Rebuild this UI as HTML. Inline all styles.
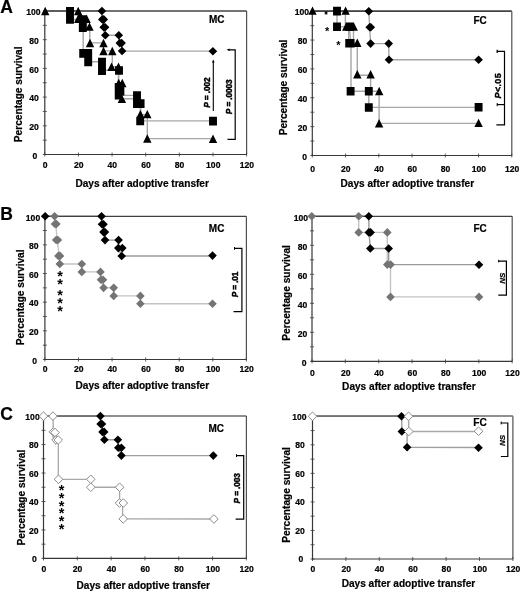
<!DOCTYPE html><html><head><meta charset="utf-8"><style>html,body{margin:0;padding:0;background:#fff;}svg{display:block;will-change:transform;filter:blur(0.5px);}</style></head><body><svg width="520" height="592" viewBox="0 0 520 592" font-family='"Liberation Sans", sans-serif'>
<rect width="520" height="592" fill="#fff"/>
<polyline points="44.80,11.00 101.90,11.00 101.90,19.40 103.00,19.40 103.00,27.30 104.40,27.30 104.40,35.20 118.80,35.20 118.80,43.10 121.60,43.10 121.60,51.10 213.00,51.10" fill="none" stroke="#a6a6a6" stroke-width="1.4"/>
<polyline points="44.80,11.00 70.00,11.00 70.00,19.50 82.80,19.50 82.80,27.90 83.20,27.90 83.20,53.20 88.20,53.20 88.20,61.70 102.00,61.70 102.00,70.30 118.60,70.30 118.60,86.90 118.70,95.40 137.00,95.40 137.00,103.80 140.60,103.80 140.60,120.90 213.00,120.90" fill="none" stroke="#a6a6a6" stroke-width="1.4"/>
<polyline points="44.80,11.00 78.20,11.00 78.20,19.20 86.60,19.20 86.60,27.00 89.80,27.00 89.80,42.90 103.50,42.90 103.50,50.90 112.30,50.90 112.30,66.80 118.50,66.80 118.50,82.75 122.30,82.75 122.30,98.80 140.40,98.80 140.40,114.60 147.30,114.60 147.30,138.60 213.00,138.60" fill="none" stroke="#a6a6a6" stroke-width="1.4"/>
<polyline points="312.30,11.20 368.80,11.20 369.70,27.30 370.60,43.60 388.70,43.60 389.00,59.80 478.60,59.80" fill="none" stroke="#a6a6a6" stroke-width="1.4"/>
<polyline points="312.30,11.20 337.00,11.20 337.00,26.80 349.00,26.80 351.00,43.50 351.00,91.30 368.80,91.30 368.80,107.40 478.60,107.40" fill="none" stroke="#a6a6a6" stroke-width="1.4"/>
<polyline points="312.30,11.20 345.40,11.20 345.40,27.00 353.50,27.00 353.50,43.20 357.30,43.20 357.30,75.30 370.60,75.30 370.60,91.30 379.10,91.30 379.10,123.40 478.60,123.40" fill="none" stroke="#a6a6a6" stroke-width="1.4"/>
<polyline points="348.60,27.00 348.60,43.00" fill="none" stroke="#a6a6a6" stroke-width="1.2"/>
<polyline points="44.90,216.20 54.60,216.20 55.80,224.20 57.10,240.10 59.30,256.00 59.80,264.00 81.80,264.00 81.80,271.90 100.50,271.90 101.50,279.80 103.60,287.85 113.70,287.85 113.70,295.90 140.40,295.90 140.40,303.80 212.50,303.80" fill="none" stroke="#c4c4c4" stroke-width="1.4"/>
<polyline points="45.15,216.20 101.50,216.20 102.70,224.20 104.10,232.10 105.00,240.10 118.60,240.10 118.30,248.10 121.70,256.00 212.50,256.00" fill="none" stroke="#9a9a9a" stroke-width="1.4"/>
<polyline points="311.80,216.30 358.70,216.30 358.70,232.40 387.30,232.40 387.30,264.60 390.50,264.60 390.50,296.90 479.00,296.90" fill="none" stroke="#c4c4c4" stroke-width="1.4"/>
<polyline points="311.80,216.30 368.80,216.30 369.00,232.40 370.30,248.50 388.70,248.50 388.70,264.60 479.00,264.60" fill="none" stroke="#9a9a9a" stroke-width="1.4"/>
<polyline points="43.50,416.10 100.40,416.10" fill="none" stroke="#8a8a8a" stroke-width="1.6"/>
<polyline points="100.40,416.10 101.20,424.00 102.50,431.90 104.40,439.80 117.90,439.80 118.30,447.70 121.40,455.60 213.30,455.60" fill="none" stroke="#a0a0a0" stroke-width="1.4"/>
<polyline points="43.50,416.10 53.20,416.10 53.20,440.00 58.30,440.00 58.30,479.30 90.80,479.30 90.80,487.25 119.60,487.25 119.60,503.10 122.60,503.10 122.60,518.90 213.90,519.00" fill="none" stroke="#a8a8a8" stroke-width="1.3"/>
<polyline points="312.50,416.30 408.50,416.30" fill="none" stroke="#8a8a8a" stroke-width="1.6"/>
<polyline points="401.80,416.30 401.80,431.50 407.10,431.50 407.10,447.30 478.50,447.50" fill="none" stroke="#a0a0a0" stroke-width="1.4"/>
<polyline points="408.50,416.30 408.80,431.50 478.50,431.50" fill="none" stroke="#a8a8a8" stroke-width="1.4"/>
<line x1="44.80" y1="11.00" x2="246.60" y2="11.00" stroke="#444" stroke-width="1.6"/>
<line x1="246.60" y1="11.00" x2="246.60" y2="154.50" stroke="#505050" stroke-width="1.2"/>
<line x1="44.80" y1="11.00" x2="44.80" y2="155.10" stroke="#383838" stroke-width="1.2"/>
<line x1="44.20" y1="154.50" x2="246.60" y2="154.50" stroke="#383838" stroke-width="1.2"/>
<line x1="42.80" y1="154.50" x2="46.80" y2="154.50" stroke="#383838" stroke-width="0.8"/>
<line x1="42.80" y1="140.15" x2="46.80" y2="140.15" stroke="#383838" stroke-width="0.8"/>
<line x1="42.80" y1="125.80" x2="46.80" y2="125.80" stroke="#383838" stroke-width="0.8"/>
<line x1="42.80" y1="111.45" x2="46.80" y2="111.45" stroke="#383838" stroke-width="0.8"/>
<line x1="42.80" y1="97.10" x2="46.80" y2="97.10" stroke="#383838" stroke-width="0.8"/>
<line x1="42.80" y1="82.75" x2="46.80" y2="82.75" stroke="#383838" stroke-width="0.8"/>
<line x1="42.80" y1="68.40" x2="46.80" y2="68.40" stroke="#383838" stroke-width="0.8"/>
<line x1="42.80" y1="54.05" x2="46.80" y2="54.05" stroke="#383838" stroke-width="0.8"/>
<line x1="42.80" y1="39.70" x2="46.80" y2="39.70" stroke="#383838" stroke-width="0.8"/>
<line x1="42.80" y1="25.35" x2="46.80" y2="25.35" stroke="#383838" stroke-width="0.8"/>
<line x1="42.80" y1="11.00" x2="46.80" y2="11.00" stroke="#383838" stroke-width="0.8"/>
<line x1="44.80" y1="152.50" x2="44.80" y2="156.50" stroke="#383838" stroke-width="0.8"/>
<line x1="78.43" y1="152.50" x2="78.43" y2="156.50" stroke="#383838" stroke-width="0.8"/>
<line x1="112.07" y1="152.50" x2="112.07" y2="156.50" stroke="#383838" stroke-width="0.8"/>
<line x1="145.70" y1="152.50" x2="145.70" y2="156.50" stroke="#383838" stroke-width="0.8"/>
<line x1="179.33" y1="152.50" x2="179.33" y2="156.50" stroke="#383838" stroke-width="0.8"/>
<line x1="212.97" y1="152.50" x2="212.97" y2="156.50" stroke="#383838" stroke-width="0.8"/>
<line x1="246.60" y1="152.50" x2="246.60" y2="156.50" stroke="#383838" stroke-width="0.8"/>
<text x="37.40" y="158.60" font-size="8.6" text-anchor="end" font-weight="bold" font-style="normal" fill="#000" stroke="#000" stroke-width="0.2">0</text>
<text x="38.90" y="129.90" font-size="8.6" text-anchor="end" font-weight="bold" font-style="normal" fill="#000" stroke="#000" stroke-width="0.2">20</text>
<text x="38.90" y="101.20" font-size="8.6" text-anchor="end" font-weight="bold" font-style="normal" fill="#000" stroke="#000" stroke-width="0.2">40</text>
<text x="38.90" y="72.50" font-size="8.6" text-anchor="end" font-weight="bold" font-style="normal" fill="#000" stroke="#000" stroke-width="0.2">60</text>
<text x="38.90" y="43.80" font-size="8.6" text-anchor="end" font-weight="bold" font-style="normal" fill="#000" stroke="#000" stroke-width="0.2">80</text>
<text x="40.60" y="15.10" font-size="8.6" text-anchor="end" font-weight="bold" font-style="normal" fill="#000" stroke="#000" stroke-width="0.2">100</text>
<text x="45.10" y="167.60" font-size="8.6" text-anchor="middle" font-weight="bold" font-style="normal" fill="#000" stroke="#000" stroke-width="0.2">0</text>
<text x="78.73" y="167.60" font-size="8.6" text-anchor="middle" font-weight="bold" font-style="normal" fill="#000" stroke="#000" stroke-width="0.2">20</text>
<text x="112.37" y="167.60" font-size="8.6" text-anchor="middle" font-weight="bold" font-style="normal" fill="#000" stroke="#000" stroke-width="0.2">40</text>
<text x="146.00" y="167.60" font-size="8.6" text-anchor="middle" font-weight="bold" font-style="normal" fill="#000" stroke="#000" stroke-width="0.2">60</text>
<text x="179.63" y="167.60" font-size="8.6" text-anchor="middle" font-weight="bold" font-style="normal" fill="#000" stroke="#000" stroke-width="0.2">80</text>
<text x="213.27" y="167.60" font-size="8.6" text-anchor="middle" font-weight="bold" font-style="normal" fill="#000" stroke="#000" stroke-width="0.2">100</text>
<text x="246.90" y="167.60" font-size="8.6" text-anchor="middle" font-weight="bold" font-style="normal" fill="#000" stroke="#000" stroke-width="0.2">120</text>
<text x="75.40" y="186.70" font-size="10.1" text-anchor="start" font-weight="bold" font-style="normal" fill="#000" stroke="#000" stroke-width="0.2">Days after adoptive transfer</text>
<text x="22.40" y="94.30" font-size="10.15" text-anchor="middle" font-weight="bold" font-style="normal" fill="#000" stroke="#000" stroke-width="0.2" transform="rotate(-90 22.40 94.30)">Percentage survival</text>
<text x="209.00" y="23.40" font-size="10" text-anchor="start" font-weight="bold" font-style="normal" fill="#000" stroke="#000" stroke-width="0.2">MC</text>
<line x1="312.30" y1="11.10" x2="511.80" y2="11.10" stroke="#444" stroke-width="1.6"/>
<line x1="511.80" y1="11.20" x2="511.80" y2="155.50" stroke="#505050" stroke-width="1.2"/>
<line x1="312.30" y1="11.20" x2="312.30" y2="156.10" stroke="#383838" stroke-width="1.2"/>
<line x1="311.70" y1="155.50" x2="511.80" y2="155.50" stroke="#383838" stroke-width="1.2"/>
<line x1="310.30" y1="155.50" x2="314.30" y2="155.50" stroke="#383838" stroke-width="0.8"/>
<line x1="310.30" y1="141.07" x2="314.30" y2="141.07" stroke="#383838" stroke-width="0.8"/>
<line x1="310.30" y1="126.64" x2="314.30" y2="126.64" stroke="#383838" stroke-width="0.8"/>
<line x1="310.30" y1="112.21" x2="314.30" y2="112.21" stroke="#383838" stroke-width="0.8"/>
<line x1="310.30" y1="97.78" x2="314.30" y2="97.78" stroke="#383838" stroke-width="0.8"/>
<line x1="310.30" y1="83.35" x2="314.30" y2="83.35" stroke="#383838" stroke-width="0.8"/>
<line x1="310.30" y1="68.92" x2="314.30" y2="68.92" stroke="#383838" stroke-width="0.8"/>
<line x1="310.30" y1="54.49" x2="314.30" y2="54.49" stroke="#383838" stroke-width="0.8"/>
<line x1="310.30" y1="40.06" x2="314.30" y2="40.06" stroke="#383838" stroke-width="0.8"/>
<line x1="310.30" y1="25.63" x2="314.30" y2="25.63" stroke="#383838" stroke-width="0.8"/>
<line x1="310.30" y1="11.20" x2="314.30" y2="11.20" stroke="#383838" stroke-width="0.8"/>
<line x1="312.30" y1="153.50" x2="312.30" y2="157.50" stroke="#383838" stroke-width="0.8"/>
<line x1="345.55" y1="153.50" x2="345.55" y2="157.50" stroke="#383838" stroke-width="0.8"/>
<line x1="378.80" y1="153.50" x2="378.80" y2="157.50" stroke="#383838" stroke-width="0.8"/>
<line x1="412.05" y1="153.50" x2="412.05" y2="157.50" stroke="#383838" stroke-width="0.8"/>
<line x1="445.30" y1="153.50" x2="445.30" y2="157.50" stroke="#383838" stroke-width="0.8"/>
<line x1="478.55" y1="153.50" x2="478.55" y2="157.50" stroke="#383838" stroke-width="0.8"/>
<line x1="511.80" y1="153.50" x2="511.80" y2="157.50" stroke="#383838" stroke-width="0.8"/>
<text x="307.00" y="159.60" font-size="8.6" text-anchor="end" font-weight="bold" font-style="normal" fill="#000" stroke="#000" stroke-width="0.2">0</text>
<text x="307.40" y="130.74" font-size="8.6" text-anchor="end" font-weight="bold" font-style="normal" fill="#000" stroke="#000" stroke-width="0.2">20</text>
<text x="307.40" y="101.88" font-size="8.6" text-anchor="end" font-weight="bold" font-style="normal" fill="#000" stroke="#000" stroke-width="0.2">40</text>
<text x="307.40" y="73.02" font-size="8.6" text-anchor="end" font-weight="bold" font-style="normal" fill="#000" stroke="#000" stroke-width="0.2">60</text>
<text x="307.40" y="44.16" font-size="8.6" text-anchor="end" font-weight="bold" font-style="normal" fill="#000" stroke="#000" stroke-width="0.2">80</text>
<text x="309.00" y="15.30" font-size="8.6" text-anchor="end" font-weight="bold" font-style="normal" fill="#000" stroke="#000" stroke-width="0.2">100</text>
<text x="312.60" y="171.60" font-size="8.6" text-anchor="middle" font-weight="bold" font-style="normal" fill="#000" stroke="#000" stroke-width="0.2">0</text>
<text x="345.85" y="171.60" font-size="8.6" text-anchor="middle" font-weight="bold" font-style="normal" fill="#000" stroke="#000" stroke-width="0.2">20</text>
<text x="379.10" y="171.60" font-size="8.6" text-anchor="middle" font-weight="bold" font-style="normal" fill="#000" stroke="#000" stroke-width="0.2">40</text>
<text x="412.35" y="171.60" font-size="8.6" text-anchor="middle" font-weight="bold" font-style="normal" fill="#000" stroke="#000" stroke-width="0.2">60</text>
<text x="445.60" y="171.60" font-size="8.6" text-anchor="middle" font-weight="bold" font-style="normal" fill="#000" stroke="#000" stroke-width="0.2">80</text>
<text x="478.85" y="171.60" font-size="8.6" text-anchor="middle" font-weight="bold" font-style="normal" fill="#000" stroke="#000" stroke-width="0.2">100</text>
<text x="512.10" y="171.60" font-size="8.6" text-anchor="middle" font-weight="bold" font-style="normal" fill="#000" stroke="#000" stroke-width="0.2">120</text>
<text x="340.55" y="186.70" font-size="10.1" text-anchor="start" font-weight="bold" font-style="normal" fill="#000" stroke="#000" stroke-width="0.2">Days after adoptive transfer</text>
<text x="287.40" y="87.50" font-size="10.15" text-anchor="middle" font-weight="bold" font-style="normal" fill="#000" stroke="#000" stroke-width="0.2" transform="rotate(-90 287.40 87.50)">Percentage survival</text>
<text x="473.40" y="23.50" font-size="10" text-anchor="start" font-weight="bold" font-style="normal" fill="#000" stroke="#000" stroke-width="0.2">FC</text>
<line x1="44.90" y1="216.40" x2="246.40" y2="216.40" stroke="#404040" stroke-width="1.1"/>
<line x1="246.40" y1="216.20" x2="246.40" y2="359.50" stroke="#505050" stroke-width="1.2"/>
<line x1="44.90" y1="216.20" x2="44.90" y2="360.10" stroke="#383838" stroke-width="1.2"/>
<line x1="44.30" y1="359.50" x2="246.40" y2="359.50" stroke="#383838" stroke-width="1.2"/>
<line x1="42.90" y1="359.50" x2="46.90" y2="359.50" stroke="#383838" stroke-width="0.8"/>
<line x1="42.90" y1="345.17" x2="46.90" y2="345.17" stroke="#383838" stroke-width="0.8"/>
<line x1="42.90" y1="330.84" x2="46.90" y2="330.84" stroke="#383838" stroke-width="0.8"/>
<line x1="42.90" y1="316.51" x2="46.90" y2="316.51" stroke="#383838" stroke-width="0.8"/>
<line x1="42.90" y1="302.18" x2="46.90" y2="302.18" stroke="#383838" stroke-width="0.8"/>
<line x1="42.90" y1="287.85" x2="46.90" y2="287.85" stroke="#383838" stroke-width="0.8"/>
<line x1="42.90" y1="273.52" x2="46.90" y2="273.52" stroke="#383838" stroke-width="0.8"/>
<line x1="42.90" y1="259.19" x2="46.90" y2="259.19" stroke="#383838" stroke-width="0.8"/>
<line x1="42.90" y1="244.86" x2="46.90" y2="244.86" stroke="#383838" stroke-width="0.8"/>
<line x1="42.90" y1="230.53" x2="46.90" y2="230.53" stroke="#383838" stroke-width="0.8"/>
<line x1="42.90" y1="216.20" x2="46.90" y2="216.20" stroke="#383838" stroke-width="0.8"/>
<line x1="44.90" y1="357.50" x2="44.90" y2="361.50" stroke="#383838" stroke-width="0.8"/>
<line x1="78.48" y1="357.50" x2="78.48" y2="361.50" stroke="#383838" stroke-width="0.8"/>
<line x1="112.07" y1="357.50" x2="112.07" y2="361.50" stroke="#383838" stroke-width="0.8"/>
<line x1="145.65" y1="357.50" x2="145.65" y2="361.50" stroke="#383838" stroke-width="0.8"/>
<line x1="179.23" y1="357.50" x2="179.23" y2="361.50" stroke="#383838" stroke-width="0.8"/>
<line x1="212.82" y1="357.50" x2="212.82" y2="361.50" stroke="#383838" stroke-width="0.8"/>
<line x1="246.40" y1="357.50" x2="246.40" y2="361.50" stroke="#383838" stroke-width="0.8"/>
<text x="37.10" y="363.80" font-size="8.6" text-anchor="end" font-weight="bold" font-style="normal" fill="#000" stroke="#000" stroke-width="0.2">0</text>
<text x="38.60" y="335.14" font-size="8.6" text-anchor="end" font-weight="bold" font-style="normal" fill="#000" stroke="#000" stroke-width="0.2">20</text>
<text x="38.60" y="306.48" font-size="8.6" text-anchor="end" font-weight="bold" font-style="normal" fill="#000" stroke="#000" stroke-width="0.2">40</text>
<text x="38.60" y="277.82" font-size="8.6" text-anchor="end" font-weight="bold" font-style="normal" fill="#000" stroke="#000" stroke-width="0.2">60</text>
<text x="38.60" y="249.16" font-size="8.6" text-anchor="end" font-weight="bold" font-style="normal" fill="#000" stroke="#000" stroke-width="0.2">80</text>
<text x="40.20" y="220.50" font-size="8.6" text-anchor="end" font-weight="bold" font-style="normal" fill="#000" stroke="#000" stroke-width="0.2">100</text>
<text x="45.20" y="372.30" font-size="8.6" text-anchor="middle" font-weight="bold" font-style="normal" fill="#000" stroke="#000" stroke-width="0.2">0</text>
<text x="78.78" y="372.30" font-size="8.6" text-anchor="middle" font-weight="bold" font-style="normal" fill="#000" stroke="#000" stroke-width="0.2">20</text>
<text x="112.37" y="372.30" font-size="8.6" text-anchor="middle" font-weight="bold" font-style="normal" fill="#000" stroke="#000" stroke-width="0.2">40</text>
<text x="145.95" y="372.30" font-size="8.6" text-anchor="middle" font-weight="bold" font-style="normal" fill="#000" stroke="#000" stroke-width="0.2">60</text>
<text x="179.53" y="372.30" font-size="8.6" text-anchor="middle" font-weight="bold" font-style="normal" fill="#000" stroke="#000" stroke-width="0.2">80</text>
<text x="213.12" y="372.30" font-size="8.6" text-anchor="middle" font-weight="bold" font-style="normal" fill="#000" stroke="#000" stroke-width="0.2">100</text>
<text x="246.70" y="372.30" font-size="8.6" text-anchor="middle" font-weight="bold" font-style="normal" fill="#000" stroke="#000" stroke-width="0.2">120</text>
<text x="75.55" y="389.10" font-size="10.1" text-anchor="start" font-weight="bold" font-style="normal" fill="#000" stroke="#000" stroke-width="0.2">Days after adoptive transfer</text>
<text x="23.90" y="297.30" font-size="10.15" text-anchor="middle" font-weight="bold" font-style="normal" fill="#000" stroke="#000" stroke-width="0.2" transform="rotate(-90 23.90 297.30)">Percentage survival</text>
<text x="208.80" y="231.90" font-size="10" text-anchor="start" font-weight="bold" font-style="normal" fill="#000" stroke="#000" stroke-width="0.2">MC</text>
<line x1="312.00" y1="216.40" x2="512.20" y2="216.40" stroke="#404040" stroke-width="1.1"/>
<line x1="512.20" y1="216.30" x2="512.20" y2="361.30" stroke="#505050" stroke-width="1.2"/>
<line x1="312.00" y1="216.30" x2="312.00" y2="361.90" stroke="#383838" stroke-width="1.2"/>
<line x1="311.40" y1="361.30" x2="512.20" y2="361.30" stroke="#383838" stroke-width="1.2"/>
<line x1="310.00" y1="361.30" x2="314.00" y2="361.30" stroke="#383838" stroke-width="0.8"/>
<line x1="310.00" y1="346.80" x2="314.00" y2="346.80" stroke="#383838" stroke-width="0.8"/>
<line x1="310.00" y1="332.30" x2="314.00" y2="332.30" stroke="#383838" stroke-width="0.8"/>
<line x1="310.00" y1="317.80" x2="314.00" y2="317.80" stroke="#383838" stroke-width="0.8"/>
<line x1="310.00" y1="303.30" x2="314.00" y2="303.30" stroke="#383838" stroke-width="0.8"/>
<line x1="310.00" y1="288.80" x2="314.00" y2="288.80" stroke="#383838" stroke-width="0.8"/>
<line x1="310.00" y1="274.30" x2="314.00" y2="274.30" stroke="#383838" stroke-width="0.8"/>
<line x1="310.00" y1="259.80" x2="314.00" y2="259.80" stroke="#383838" stroke-width="0.8"/>
<line x1="310.00" y1="245.30" x2="314.00" y2="245.30" stroke="#383838" stroke-width="0.8"/>
<line x1="310.00" y1="230.80" x2="314.00" y2="230.80" stroke="#383838" stroke-width="0.8"/>
<line x1="310.00" y1="216.30" x2="314.00" y2="216.30" stroke="#383838" stroke-width="0.8"/>
<line x1="312.00" y1="359.30" x2="312.00" y2="363.30" stroke="#383838" stroke-width="0.8"/>
<line x1="345.37" y1="359.30" x2="345.37" y2="363.30" stroke="#383838" stroke-width="0.8"/>
<line x1="378.73" y1="359.30" x2="378.73" y2="363.30" stroke="#383838" stroke-width="0.8"/>
<line x1="412.10" y1="359.30" x2="412.10" y2="363.30" stroke="#383838" stroke-width="0.8"/>
<line x1="445.47" y1="359.30" x2="445.47" y2="363.30" stroke="#383838" stroke-width="0.8"/>
<line x1="478.83" y1="359.30" x2="478.83" y2="363.30" stroke="#383838" stroke-width="0.8"/>
<line x1="512.20" y1="359.30" x2="512.20" y2="363.30" stroke="#383838" stroke-width="0.8"/>
<text x="306.50" y="365.90" font-size="8.6" text-anchor="end" font-weight="bold" font-style="normal" fill="#000" stroke="#000" stroke-width="0.2">0</text>
<text x="307.20" y="336.90" font-size="8.6" text-anchor="end" font-weight="bold" font-style="normal" fill="#000" stroke="#000" stroke-width="0.2">20</text>
<text x="307.20" y="307.90" font-size="8.6" text-anchor="end" font-weight="bold" font-style="normal" fill="#000" stroke="#000" stroke-width="0.2">40</text>
<text x="307.20" y="278.90" font-size="8.6" text-anchor="end" font-weight="bold" font-style="normal" fill="#000" stroke="#000" stroke-width="0.2">60</text>
<text x="307.20" y="249.90" font-size="8.6" text-anchor="end" font-weight="bold" font-style="normal" fill="#000" stroke="#000" stroke-width="0.2">80</text>
<text x="308.00" y="220.90" font-size="8.6" text-anchor="end" font-weight="bold" font-style="normal" fill="#000" stroke="#000" stroke-width="0.2">100</text>
<text x="312.30" y="375.50" font-size="8.6" text-anchor="middle" font-weight="bold" font-style="normal" fill="#000" stroke="#000" stroke-width="0.2">0</text>
<text x="345.67" y="375.50" font-size="8.6" text-anchor="middle" font-weight="bold" font-style="normal" fill="#000" stroke="#000" stroke-width="0.2">20</text>
<text x="379.03" y="375.50" font-size="8.6" text-anchor="middle" font-weight="bold" font-style="normal" fill="#000" stroke="#000" stroke-width="0.2">40</text>
<text x="412.40" y="375.50" font-size="8.6" text-anchor="middle" font-weight="bold" font-style="normal" fill="#000" stroke="#000" stroke-width="0.2">60</text>
<text x="445.77" y="375.50" font-size="8.6" text-anchor="middle" font-weight="bold" font-style="normal" fill="#000" stroke="#000" stroke-width="0.2">80</text>
<text x="479.13" y="375.50" font-size="8.6" text-anchor="middle" font-weight="bold" font-style="normal" fill="#000" stroke="#000" stroke-width="0.2">100</text>
<text x="512.50" y="375.50" font-size="8.6" text-anchor="middle" font-weight="bold" font-style="normal" fill="#000" stroke="#000" stroke-width="0.2">120</text>
<text x="342.10" y="390.40" font-size="10.1" text-anchor="start" font-weight="bold" font-style="normal" fill="#000" stroke="#000" stroke-width="0.2">Days after adoptive transfer</text>
<text x="290.20" y="292.90" font-size="10.15" text-anchor="middle" font-weight="bold" font-style="normal" fill="#000" stroke="#000" stroke-width="0.2" transform="rotate(-90 290.20 292.90)">Percentage survival</text>
<text x="473.50" y="232.30" font-size="10" text-anchor="start" font-weight="bold" font-style="normal" fill="#000" stroke="#000" stroke-width="0.2">FC</text>
<line x1="43.50" y1="416.00" x2="246.40" y2="416.00" stroke="#6a6a6a" stroke-width="1.6"/>
<line x1="246.40" y1="416.10" x2="246.40" y2="558.40" stroke="#505050" stroke-width="1.2"/>
<line x1="43.50" y1="416.10" x2="43.50" y2="559.00" stroke="#383838" stroke-width="1.2"/>
<line x1="42.90" y1="558.40" x2="246.40" y2="558.40" stroke="#383838" stroke-width="1.2"/>
<line x1="41.50" y1="558.40" x2="45.50" y2="558.40" stroke="#383838" stroke-width="0.8"/>
<line x1="41.50" y1="544.17" x2="45.50" y2="544.17" stroke="#383838" stroke-width="0.8"/>
<line x1="41.50" y1="529.94" x2="45.50" y2="529.94" stroke="#383838" stroke-width="0.8"/>
<line x1="41.50" y1="515.71" x2="45.50" y2="515.71" stroke="#383838" stroke-width="0.8"/>
<line x1="41.50" y1="501.48" x2="45.50" y2="501.48" stroke="#383838" stroke-width="0.8"/>
<line x1="41.50" y1="487.25" x2="45.50" y2="487.25" stroke="#383838" stroke-width="0.8"/>
<line x1="41.50" y1="473.02" x2="45.50" y2="473.02" stroke="#383838" stroke-width="0.8"/>
<line x1="41.50" y1="458.79" x2="45.50" y2="458.79" stroke="#383838" stroke-width="0.8"/>
<line x1="41.50" y1="444.56" x2="45.50" y2="444.56" stroke="#383838" stroke-width="0.8"/>
<line x1="41.50" y1="430.33" x2="45.50" y2="430.33" stroke="#383838" stroke-width="0.8"/>
<line x1="41.50" y1="416.10" x2="45.50" y2="416.10" stroke="#383838" stroke-width="0.8"/>
<line x1="43.50" y1="556.40" x2="43.50" y2="560.40" stroke="#383838" stroke-width="0.8"/>
<line x1="77.32" y1="556.40" x2="77.32" y2="560.40" stroke="#383838" stroke-width="0.8"/>
<line x1="111.13" y1="556.40" x2="111.13" y2="560.40" stroke="#383838" stroke-width="0.8"/>
<line x1="144.95" y1="556.40" x2="144.95" y2="560.40" stroke="#383838" stroke-width="0.8"/>
<line x1="178.77" y1="556.40" x2="178.77" y2="560.40" stroke="#383838" stroke-width="0.8"/>
<line x1="212.58" y1="556.40" x2="212.58" y2="560.40" stroke="#383838" stroke-width="0.8"/>
<line x1="246.40" y1="556.40" x2="246.40" y2="560.40" stroke="#383838" stroke-width="0.8"/>
<text x="36.70" y="562.20" font-size="8.6" text-anchor="end" font-weight="bold" font-style="normal" fill="#000" stroke="#000" stroke-width="0.2">0</text>
<text x="38.60" y="533.74" font-size="8.6" text-anchor="end" font-weight="bold" font-style="normal" fill="#000" stroke="#000" stroke-width="0.2">20</text>
<text x="38.60" y="505.28" font-size="8.6" text-anchor="end" font-weight="bold" font-style="normal" fill="#000" stroke="#000" stroke-width="0.2">40</text>
<text x="38.60" y="476.82" font-size="8.6" text-anchor="end" font-weight="bold" font-style="normal" fill="#000" stroke="#000" stroke-width="0.2">60</text>
<text x="38.60" y="448.36" font-size="8.6" text-anchor="end" font-weight="bold" font-style="normal" fill="#000" stroke="#000" stroke-width="0.2">80</text>
<text x="39.70" y="419.90" font-size="8.6" text-anchor="end" font-weight="bold" font-style="normal" fill="#000" stroke="#000" stroke-width="0.2">100</text>
<text x="43.80" y="571.80" font-size="8.6" text-anchor="middle" font-weight="bold" font-style="normal" fill="#000" stroke="#000" stroke-width="0.2">0</text>
<text x="77.62" y="571.80" font-size="8.6" text-anchor="middle" font-weight="bold" font-style="normal" fill="#000" stroke="#000" stroke-width="0.2">20</text>
<text x="111.43" y="571.80" font-size="8.6" text-anchor="middle" font-weight="bold" font-style="normal" fill="#000" stroke="#000" stroke-width="0.2">40</text>
<text x="145.25" y="571.80" font-size="8.6" text-anchor="middle" font-weight="bold" font-style="normal" fill="#000" stroke="#000" stroke-width="0.2">60</text>
<text x="179.07" y="571.80" font-size="8.6" text-anchor="middle" font-weight="bold" font-style="normal" fill="#000" stroke="#000" stroke-width="0.2">80</text>
<text x="212.88" y="571.80" font-size="8.6" text-anchor="middle" font-weight="bold" font-style="normal" fill="#000" stroke="#000" stroke-width="0.2">100</text>
<text x="246.70" y="571.80" font-size="8.6" text-anchor="middle" font-weight="bold" font-style="normal" fill="#000" stroke="#000" stroke-width="0.2">120</text>
<text x="76.50" y="589.20" font-size="10.1" text-anchor="start" font-weight="bold" font-style="normal" fill="#000" stroke="#000" stroke-width="0.2">Days after adoptive transfer</text>
<text x="24.60" y="497.60" font-size="10.15" text-anchor="middle" font-weight="bold" font-style="normal" fill="#000" stroke="#000" stroke-width="0.2" transform="rotate(-90 24.60 497.60)">Percentage survival</text>
<text x="208.50" y="432.00" font-size="10" text-anchor="start" font-weight="bold" font-style="normal" fill="#000" stroke="#000" stroke-width="0.2">MC</text>
<line x1="312.50" y1="416.00" x2="512.90" y2="416.00" stroke="#6a6a6a" stroke-width="1.6"/>
<line x1="512.90" y1="416.30" x2="512.90" y2="559.00" stroke="#505050" stroke-width="1.2"/>
<line x1="312.50" y1="416.30" x2="312.50" y2="559.60" stroke="#383838" stroke-width="1.2"/>
<line x1="311.90" y1="559.00" x2="512.90" y2="559.00" stroke="#383838" stroke-width="1.2"/>
<line x1="310.50" y1="559.00" x2="314.50" y2="559.00" stroke="#383838" stroke-width="0.8"/>
<line x1="310.50" y1="544.73" x2="314.50" y2="544.73" stroke="#383838" stroke-width="0.8"/>
<line x1="310.50" y1="530.46" x2="314.50" y2="530.46" stroke="#383838" stroke-width="0.8"/>
<line x1="310.50" y1="516.19" x2="314.50" y2="516.19" stroke="#383838" stroke-width="0.8"/>
<line x1="310.50" y1="501.92" x2="314.50" y2="501.92" stroke="#383838" stroke-width="0.8"/>
<line x1="310.50" y1="487.65" x2="314.50" y2="487.65" stroke="#383838" stroke-width="0.8"/>
<line x1="310.50" y1="473.38" x2="314.50" y2="473.38" stroke="#383838" stroke-width="0.8"/>
<line x1="310.50" y1="459.11" x2="314.50" y2="459.11" stroke="#383838" stroke-width="0.8"/>
<line x1="310.50" y1="444.84" x2="314.50" y2="444.84" stroke="#383838" stroke-width="0.8"/>
<line x1="310.50" y1="430.57" x2="314.50" y2="430.57" stroke="#383838" stroke-width="0.8"/>
<line x1="310.50" y1="416.30" x2="314.50" y2="416.30" stroke="#383838" stroke-width="0.8"/>
<line x1="312.50" y1="557.00" x2="312.50" y2="561.00" stroke="#383838" stroke-width="0.8"/>
<line x1="345.90" y1="557.00" x2="345.90" y2="561.00" stroke="#383838" stroke-width="0.8"/>
<line x1="379.30" y1="557.00" x2="379.30" y2="561.00" stroke="#383838" stroke-width="0.8"/>
<line x1="412.70" y1="557.00" x2="412.70" y2="561.00" stroke="#383838" stroke-width="0.8"/>
<line x1="446.10" y1="557.00" x2="446.10" y2="561.00" stroke="#383838" stroke-width="0.8"/>
<line x1="479.50" y1="557.00" x2="479.50" y2="561.00" stroke="#383838" stroke-width="0.8"/>
<line x1="512.90" y1="557.00" x2="512.90" y2="561.00" stroke="#383838" stroke-width="0.8"/>
<text x="303.40" y="562.30" font-size="8.6" text-anchor="end" font-weight="bold" font-style="normal" fill="#000" stroke="#000" stroke-width="0.2">0</text>
<text x="304.90" y="533.76" font-size="8.6" text-anchor="end" font-weight="bold" font-style="normal" fill="#000" stroke="#000" stroke-width="0.2">20</text>
<text x="304.90" y="505.22" font-size="8.6" text-anchor="end" font-weight="bold" font-style="normal" fill="#000" stroke="#000" stroke-width="0.2">40</text>
<text x="304.90" y="476.68" font-size="8.6" text-anchor="end" font-weight="bold" font-style="normal" fill="#000" stroke="#000" stroke-width="0.2">60</text>
<text x="304.90" y="448.14" font-size="8.6" text-anchor="end" font-weight="bold" font-style="normal" fill="#000" stroke="#000" stroke-width="0.2">80</text>
<text x="306.60" y="419.60" font-size="8.6" text-anchor="end" font-weight="bold" font-style="normal" fill="#000" stroke="#000" stroke-width="0.2">100</text>
<text x="312.80" y="572.30" font-size="8.6" text-anchor="middle" font-weight="bold" font-style="normal" fill="#000" stroke="#000" stroke-width="0.2">0</text>
<text x="346.20" y="572.30" font-size="8.6" text-anchor="middle" font-weight="bold" font-style="normal" fill="#000" stroke="#000" stroke-width="0.2">20</text>
<text x="379.60" y="572.30" font-size="8.6" text-anchor="middle" font-weight="bold" font-style="normal" fill="#000" stroke="#000" stroke-width="0.2">40</text>
<text x="413.00" y="572.30" font-size="8.6" text-anchor="middle" font-weight="bold" font-style="normal" fill="#000" stroke="#000" stroke-width="0.2">60</text>
<text x="446.40" y="572.30" font-size="8.6" text-anchor="middle" font-weight="bold" font-style="normal" fill="#000" stroke="#000" stroke-width="0.2">80</text>
<text x="479.80" y="572.30" font-size="8.6" text-anchor="middle" font-weight="bold" font-style="normal" fill="#000" stroke="#000" stroke-width="0.2">100</text>
<text x="513.20" y="572.30" font-size="8.6" text-anchor="middle" font-weight="bold" font-style="normal" fill="#000" stroke="#000" stroke-width="0.2">120</text>
<text x="341.70" y="586.70" font-size="10.1" text-anchor="start" font-weight="bold" font-style="normal" fill="#000" stroke="#000" stroke-width="0.2">Days after adoptive transfer</text>
<text x="289.60" y="494.90" font-size="10.15" text-anchor="middle" font-weight="bold" font-style="normal" fill="#000" stroke="#000" stroke-width="0.2" transform="rotate(-90 289.60 494.90)">Percentage survival</text>
<text x="473.20" y="425.80" font-size="10.2" text-anchor="start" font-weight="bold" font-style="normal" fill="#000" stroke="#000" stroke-width="0.2">FC</text>
<text x="0.20" y="12.60" font-size="17.5" text-anchor="start" font-weight="bold" font-style="normal" fill="#000" stroke="#000" stroke-width="0.2">A</text>
<text x="0.30" y="219.80" font-size="17.5" text-anchor="start" font-weight="bold" font-style="normal" fill="#000" stroke="#000" stroke-width="0.2">B</text>
<text x="0.30" y="419.60" font-size="17.5" text-anchor="start" font-weight="bold" font-style="normal" fill="#000" stroke="#000" stroke-width="0.2">C</text>
<line x1="213.30" y1="61.00" x2="213.30" y2="111.00" stroke="#000" stroke-width="1.1"/>
<path d="M213.3 59.4L214.6 62.6L212.0 62.6Z" fill="#000"/>
<text x="210.20" y="92.70" font-size="8.3" text-anchor="middle" font-weight="bold" font-style="normal" fill="#000" stroke="#000" stroke-width="0.42" letter-spacing="-0.12" transform="rotate(-90 210.20 92.70)"><tspan font-style="italic">P</tspan> = .002</text>
<polyline points="228.40,49.80 235.20,49.80 235.20,139.30 227.50,139.30" fill="none" stroke="#000" stroke-width="1.2"/>
<path d="M226.5 49.8L229.6 48.5L229.6 51.1Z" fill="#000"/>
<text x="232.40" y="96.80" font-size="8.3" text-anchor="middle" font-weight="bold" font-style="normal" fill="#000" stroke="#000" stroke-width="0.42" letter-spacing="-0.12" transform="rotate(-90 232.40 96.80)"><tspan font-style="italic">P</tspan> = .0003</text>
<path d="M66.05 6.90h7.90v8.60h-7.90ZM66.05 15.20h7.90v8.60h-7.90ZM78.85 15.20h7.90v8.60h-7.90ZM78.85 23.30h7.90v8.60h-7.90ZM79.25 49.10h7.90v8.60h-7.90ZM84.25 49.10h7.90v8.60h-7.90ZM84.25 57.60h7.90v8.60h-7.90ZM98.05 57.80h7.90v8.60h-7.90ZM98.05 66.30h7.90v8.60h-7.90ZM115.05 66.20h7.90v8.60h-7.90ZM114.75 82.90h7.90v8.60h-7.90ZM114.75 91.00h7.90v8.60h-7.90ZM116.45 86.90h7.90v8.60h-7.90ZM133.05 91.30h7.90v8.60h-7.90ZM133.05 99.30h7.90v8.60h-7.90ZM136.65 99.30h7.90v8.60h-7.90ZM136.25 116.70h7.90v8.60h-7.90ZM209.05 116.80h7.90v8.60h-7.90ZM45.20 6.80L49.40 15.20L41.00 15.20ZM78.20 6.80L82.40 15.20L74.00 15.20ZM78.20 14.60L82.40 23.00L74.00 23.00ZM86.60 14.60L90.80 23.00L82.40 23.00ZM89.50 22.40L93.70 30.80L85.30 30.80ZM90.00 38.80L94.20 47.20L85.80 47.20ZM103.50 38.80L107.70 47.20L99.30 47.20ZM103.50 46.80L107.70 55.20L99.30 55.20ZM112.30 46.80L116.50 55.20L108.10 55.20ZM111.50 62.60L115.70 71.00L107.30 71.00ZM118.50 62.60L122.70 71.00L114.30 71.00ZM118.70 78.80L122.90 87.20L114.50 87.20ZM122.30 78.80L126.50 87.20L118.10 87.20ZM121.90 94.60L126.10 103.00L117.70 103.00ZM140.40 109.90L144.60 118.30L136.20 118.30ZM147.30 109.90L151.50 118.30L143.10 118.30ZM147.30 134.30L151.50 142.70L143.10 142.70ZM213.00 134.50L217.20 142.90L208.80 142.90ZM101.90 6.70L106.20 11.00L101.90 15.30L97.60 11.00ZM102.30 15.10L106.60 19.40L102.30 23.70L98.00 19.40ZM103.80 15.10L108.10 19.40L103.80 23.70L99.50 19.40ZM103.70 23.00L108.00 27.30L103.70 31.60L99.40 27.30ZM105.10 23.00L109.40 27.30L105.10 31.60L100.80 27.30ZM105.30 30.90L109.60 35.20L105.30 39.50L101.00 35.20ZM118.80 30.90L123.10 35.20L118.80 39.50L114.50 35.20ZM119.80 38.80L124.10 43.10L119.80 47.40L115.50 43.10ZM121.60 38.80L125.90 43.10L121.60 47.40L117.30 43.10ZM122.10 46.70L126.40 51.00L122.10 55.30L117.80 51.00ZM212.90 47.00L217.20 51.30L212.90 55.60L208.60 51.30Z" fill="#000"/>
<rect x="324.7" y="11.4" width="2.7" height="3.0" fill="#111"/>
<text x="327.20" y="34.51" font-size="11" text-anchor="middle" font-weight="bold">*</text>
<text x="338.30" y="48.61" font-size="11" text-anchor="middle" font-weight="bold">*</text>
<polyline points="496.90,51.40 504.50,51.40 504.50,124.80 496.40,124.80" fill="none" stroke="#000" stroke-width="1.2"/>
<line x1="496.90" y1="104.60" x2="504.50" y2="104.60" stroke="#000" stroke-width="1.2"/>
<line x1="497.20" y1="49.80" x2="497.20" y2="53.00" stroke="#000" stroke-width="1.2"/>
<line x1="497.20" y1="103.00" x2="497.20" y2="106.20" stroke="#000" stroke-width="1.0"/>
<text x="500.90" y="85.70" font-size="9" text-anchor="middle" font-weight="bold" font-style="normal" fill="#000" stroke="#000" stroke-width="0.4" letter-spacing="0.35" transform="rotate(-90 500.90 85.70)"><tspan font-style="italic">P</tspan>&lt;.05</text>
<path d="M333.05 6.80h7.90v8.60h-7.90ZM333.05 22.50h7.90v8.60h-7.90ZM345.55 22.50h7.90v8.60h-7.90ZM345.25 38.90h7.90v8.60h-7.90ZM346.65 38.90h7.90v8.60h-7.90ZM346.65 87.00h7.90v8.60h-7.90ZM364.85 87.00h7.90v8.60h-7.90ZM364.85 103.20h7.90v8.60h-7.90ZM474.65 103.00h7.90v8.60h-7.90ZM312.50 6.40L316.70 14.80L308.30 14.80ZM345.60 6.40L349.80 14.80L341.40 14.80ZM346.30 22.30L350.50 30.70L342.10 30.70ZM353.70 22.30L357.90 30.70L349.50 30.70ZM357.30 38.60L361.50 47.00L353.10 47.00ZM357.30 70.10L361.50 78.50L353.10 78.50ZM370.60 70.10L374.80 78.50L366.40 78.50ZM379.20 86.80L383.40 95.20L375.00 95.20ZM379.10 119.00L383.30 127.40L374.90 127.40ZM478.60 118.70L482.80 127.10L474.40 127.10ZM368.80 6.90L373.10 11.20L368.80 15.50L364.50 11.20ZM369.70 23.00L374.00 27.30L369.70 31.60L365.40 27.30ZM370.80 23.00L375.10 27.30L370.80 31.60L366.50 27.30ZM370.60 39.30L374.90 43.60L370.60 47.90L366.30 43.60ZM388.70 39.30L393.00 43.60L388.70 47.90L384.40 43.60ZM389.00 55.50L393.30 59.80L389.00 64.10L384.70 59.80ZM478.60 55.50L482.90 59.80L478.60 64.10L474.30 59.80Z" fill="#000"/>
<text x="60.00" y="281.00" font-size="14.5" text-anchor="middle" font-weight="bold">*</text>
<text x="60.00" y="288.79" font-size="14.5" text-anchor="middle" font-weight="bold">*</text>
<text x="60.00" y="299.79" font-size="14.5" text-anchor="middle" font-weight="bold">*</text>
<text x="60.00" y="307.89" font-size="14.5" text-anchor="middle" font-weight="bold">*</text>
<text x="60.00" y="315.79" font-size="14.5" text-anchor="middle" font-weight="bold">*</text>
<polyline points="234.20,248.40 241.90,248.40 241.90,311.60 233.50,311.60" fill="none" stroke="#000" stroke-width="1.2"/>
<line x1="234.50" y1="247.00" x2="234.50" y2="249.80" stroke="#000" stroke-width="1.0"/>
<text x="237.50" y="284.50" font-size="8.3" text-anchor="middle" font-weight="bold" font-style="normal" fill="#000" stroke="#000" stroke-width="0.42" letter-spacing="-0.12" transform="rotate(-90 237.50 284.50)"><tspan font-style="italic">P</tspan> = .01</text>
<path d="M45.15 211.90L49.45 216.20L45.15 220.50L40.85 216.20ZM101.50 211.90L105.80 216.20L101.50 220.50L97.20 216.20ZM102.00 219.90L106.30 224.20L102.00 228.50L97.70 224.20ZM103.50 219.90L107.80 224.20L103.50 228.50L99.20 224.20ZM103.50 227.80L107.80 232.10L103.50 236.40L99.20 232.10ZM104.90 227.80L109.20 232.10L104.90 236.40L100.60 232.10ZM105.00 235.80L109.30 240.10L105.00 244.40L100.70 240.10ZM118.60 235.80L122.90 240.10L118.60 244.40L114.30 240.10ZM118.30 243.80L122.60 248.10L118.30 252.40L114.00 248.10ZM122.30 243.80L126.60 248.10L122.30 252.40L118.00 248.10ZM121.70 251.70L126.00 256.00L121.70 260.30L117.40 256.00ZM212.50 251.30L216.80 255.60L212.50 259.90L208.20 255.60Z" fill="#000"/>
<path d="M54.60 211.90L58.90 216.20L54.60 220.50L50.30 216.20ZM55.00 219.70L59.30 224.00L55.00 228.30L50.70 224.00ZM56.40 219.70L60.70 224.00L56.40 228.30L52.10 224.00ZM56.20 235.70L60.50 240.00L56.20 244.30L51.90 240.00ZM57.90 235.70L62.20 240.00L57.90 244.30L53.60 240.00ZM58.40 251.60L62.70 255.90L58.40 260.20L54.10 255.90ZM60.00 251.60L64.30 255.90L60.00 260.20L55.70 255.90ZM59.80 259.70L64.10 264.00L59.80 268.30L55.50 264.00ZM81.80 259.70L86.10 264.00L81.80 268.30L77.50 264.00ZM81.80 267.60L86.10 271.90L81.80 276.20L77.50 271.90ZM100.50 267.60L104.80 271.90L100.50 276.20L96.20 271.90ZM101.00 275.50L105.30 279.80L101.00 284.10L96.70 279.80ZM103.00 275.50L107.30 279.80L103.00 284.10L98.70 279.80ZM103.60 283.55L107.90 287.85L103.60 292.15L99.30 287.85ZM113.70 283.55L118.00 287.85L113.70 292.15L109.40 287.85ZM113.70 291.60L118.00 295.90L113.70 300.20L109.40 295.90ZM140.40 291.60L144.70 295.90L140.40 300.20L136.10 295.90ZM140.40 299.50L144.70 303.80L140.40 308.10L136.10 303.80ZM212.50 299.50L216.80 303.80L212.50 308.10L208.20 303.80Z" fill="#747474"/>
<polyline points="498.40,261.20 506.40,261.20 506.40,295.20 498.30,295.20" fill="none" stroke="#000" stroke-width="1.2"/>
<line x1="498.70" y1="259.80" x2="498.70" y2="262.40" stroke="#000" stroke-width="1.0"/>
<text x="505.00" y="278.30" font-size="8" text-anchor="middle" font-weight="bold" font-style="italic" fill="#000" stroke="#000" stroke-width="0.22" transform="rotate(-90 505.00 278.30)">NS</text>
<path d="M368.80 212.00L373.10 216.30L368.80 220.60L364.50 216.30ZM368.80 228.10L373.10 232.40L368.80 236.70L364.50 232.40ZM370.60 228.10L374.90 232.40L370.60 236.70L366.30 232.40ZM370.30 244.20L374.60 248.50L370.30 252.80L366.00 248.50ZM388.70 244.20L393.00 248.50L388.70 252.80L384.40 248.50ZM479.00 260.40L483.30 264.70L479.00 269.00L474.70 264.70Z" fill="#000"/>
<path d="M311.80 212.00L316.10 216.30L311.80 220.60L307.50 216.30ZM358.70 212.00L363.00 216.30L358.70 220.60L354.40 216.30ZM358.70 228.10L363.00 232.40L358.70 236.70L354.40 232.40ZM387.30 228.10L391.60 232.40L387.30 236.70L383.00 232.40ZM387.30 260.30L391.60 264.60L387.30 268.90L383.00 264.60ZM390.60 260.30L394.90 264.60L390.60 268.90L386.30 264.60ZM390.50 292.60L394.80 296.90L390.50 301.20L386.20 296.90ZM479.00 292.60L483.30 296.90L479.00 301.20L474.70 296.90Z" fill="#747474"/>
<path d="M43.50 411.80L47.80 416.10L43.50 420.40L39.20 416.10Z" fill="#fff" stroke="#8c8c8c" stroke-width="1.0"/>
<path d="M53.00 411.80L57.30 416.10L53.00 420.40L48.70 416.10Z" fill="#fff" stroke="#8c8c8c" stroke-width="1.0"/>
<path d="M53.30 427.60L57.60 431.90L53.30 436.20L49.00 431.90Z" fill="#fff" stroke="#8c8c8c" stroke-width="1.0"/>
<path d="M55.00 428.20L59.30 432.50L55.00 436.80L50.70 432.50Z" fill="#fff" stroke="#8c8c8c" stroke-width="1.0"/>
<path d="M56.00 435.70L60.30 440.00L56.00 444.30L51.70 440.00Z" fill="#fff" stroke="#8c8c8c" stroke-width="1.0"/>
<path d="M58.20 435.70L62.50 440.00L58.20 444.30L53.90 440.00Z" fill="#fff" stroke="#8c8c8c" stroke-width="1.0"/>
<path d="M58.50 475.00L62.80 479.30L58.50 483.60L54.20 479.30Z" fill="#fff" stroke="#8c8c8c" stroke-width="1.0"/>
<path d="M90.80 475.00L95.10 479.30L90.80 483.60L86.50 479.30Z" fill="#fff" stroke="#8c8c8c" stroke-width="1.0"/>
<path d="M90.80 482.95L95.10 487.25L90.80 491.55L86.50 487.25Z" fill="#fff" stroke="#8c8c8c" stroke-width="1.0"/>
<path d="M119.60 482.95L123.90 487.25L119.60 491.55L115.30 487.25Z" fill="#fff" stroke="#8c8c8c" stroke-width="1.0"/>
<path d="M119.50 498.70L123.80 503.00L119.50 507.30L115.20 503.00Z" fill="#fff" stroke="#8c8c8c" stroke-width="1.0"/>
<path d="M123.30 498.70L127.60 503.00L123.30 507.30L119.00 503.00Z" fill="#fff" stroke="#8c8c8c" stroke-width="1.0"/>
<path d="M123.20 514.60L127.50 518.90L123.20 523.20L118.90 518.90Z" fill="#fff" stroke="#8c8c8c" stroke-width="1.0"/>
<path d="M213.90 514.70L218.20 519.00L213.90 523.30L209.60 519.00Z" fill="#fff" stroke="#8c8c8c" stroke-width="1.0"/>
<text x="61.65" y="495.09" font-size="14.5" text-anchor="middle" font-weight="bold">*</text>
<text x="61.65" y="503.19" font-size="14.5" text-anchor="middle" font-weight="bold">*</text>
<text x="61.65" y="511.29" font-size="14.5" text-anchor="middle" font-weight="bold">*</text>
<text x="61.65" y="517.89" font-size="14.5" text-anchor="middle" font-weight="bold">*</text>
<text x="61.65" y="526.00" font-size="14.5" text-anchor="middle" font-weight="bold">*</text>
<text x="61.65" y="534.10" font-size="14.5" text-anchor="middle" font-weight="bold">*</text>
<polyline points="236.20,455.60 243.70,455.60 243.70,519.10 235.60,519.10" fill="none" stroke="#000" stroke-width="1.2"/>
<line x1="236.50" y1="454.20" x2="236.50" y2="457.00" stroke="#000" stroke-width="1.0"/>
<text x="240.20" y="488.30" font-size="8.3" text-anchor="middle" font-weight="bold" font-style="normal" fill="#000" stroke="#000" stroke-width="0.42" letter-spacing="-0.12" transform="rotate(-90 240.20 488.30)"><tspan font-style="italic">P</tspan> = .003</text>
<path d="M100.40 411.80L104.70 416.10L100.40 420.40L96.10 416.10ZM100.60 419.70L104.90 424.00L100.60 428.30L96.30 424.00ZM102.00 419.70L106.30 424.00L102.00 428.30L97.70 424.00ZM102.50 427.60L106.80 431.90L102.50 436.20L98.20 431.90ZM104.20 427.60L108.50 431.90L104.20 436.20L99.90 431.90ZM104.40 435.50L108.70 439.80L104.40 444.10L100.10 439.80ZM117.90 435.50L122.20 439.80L117.90 444.10L113.60 439.80ZM118.30 443.40L122.60 447.70L118.30 452.00L114.00 447.70ZM121.40 443.40L125.70 447.70L121.40 452.00L117.10 447.70ZM121.40 451.30L125.70 455.60L121.40 459.90L117.10 455.60ZM213.30 451.30L217.60 455.60L213.30 459.90L209.00 455.60Z" fill="#000"/>
<path d="M401.50 412.00L405.80 416.30L401.50 420.60L397.20 416.30ZM401.80 427.20L406.10 431.50L401.80 435.80L397.50 431.50ZM407.10 443.00L411.40 447.30L407.10 451.60L402.80 447.30ZM478.50 443.50L482.80 447.80L478.50 452.10L474.20 447.80Z" fill="#000"/>
<path d="M312.50 412.00L316.80 416.30L312.50 420.60L308.20 416.30Z" fill="#fff" stroke="#8c8c8c" stroke-width="1.0"/>
<path d="M408.50 412.00L412.80 416.30L408.50 420.60L404.20 416.30Z" fill="#fff" stroke="#8c8c8c" stroke-width="1.0"/>
<path d="M408.80 427.20L413.10 431.50L408.80 435.80L404.50 431.50Z" fill="#fff" stroke="#8c8c8c" stroke-width="1.0"/>
<path d="M478.50 426.90L482.80 431.20L478.50 435.50L474.20 431.20Z" fill="#fff" stroke="#8c8c8c" stroke-width="1.0"/>
<polyline points="500.90,423.00 507.80,423.00 507.80,456.50 500.90,456.50" fill="none" stroke="#000" stroke-width="1.2"/>
<line x1="501.20" y1="421.60" x2="501.20" y2="424.40" stroke="#000" stroke-width="1.0"/>
<text x="504.60" y="440.40" font-size="8" text-anchor="middle" font-weight="bold" font-style="italic" fill="#000" stroke="#000" stroke-width="0.22" transform="rotate(-90 504.60 440.40)">NS</text>
</svg></body></html>
